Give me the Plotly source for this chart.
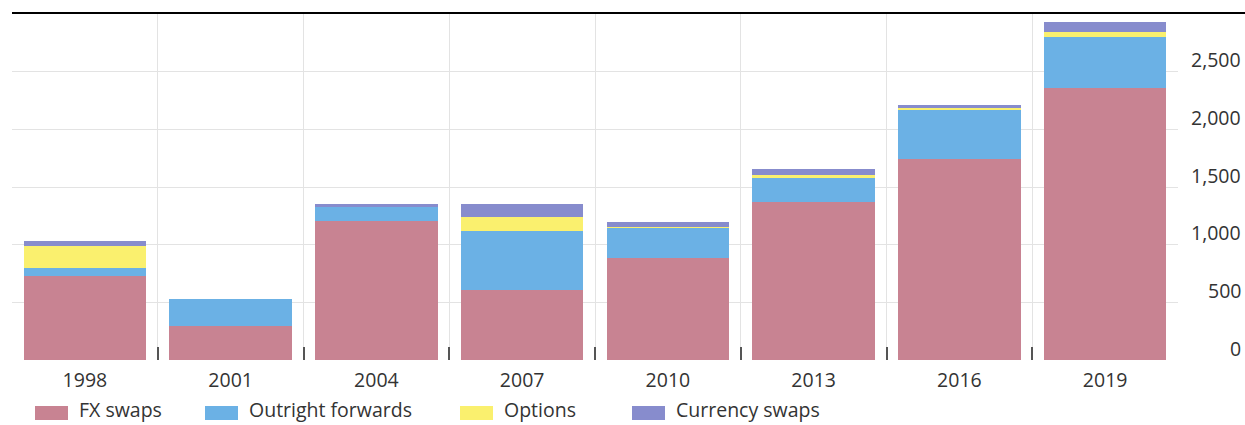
import plotly.graph_objects as go

years = ["1998", "2001", "2004", "2007", "2010", "2013", "2016", "2019"]
fx_swaps = [725, 297, 1205, 603, 884, 1370, 1747, 2355]
outright_forwards = [76, 231, 122, 515, 264, 212, 425, 443]
options = [187, 0, 8, 122, 3, 20, 18, 48]
currency_swaps = [41, 0, 15, 110, 46, 52, 17, 87]

series_names = ["FX swaps", "Outright forwards", "Options", "Currency swaps"]
series_values = [fx_swaps, outright_forwards, options, currency_swaps]
colors = ["#C88392", "#6BB1E5", "#FAF06E", "#878CCD"]

y_ticks = [0, 500, 1000, 1500, 2000, 2500]
y_tick_labels = ["0", "500", "1,000", "1,500", "2,000", "2,500"]

W, H = 1245, 425
L, R, T, B = 12, 67, 14, 65
pw = W - L - R
ph = H - T - B


def px_x(p):
    return (p - L) / pw


def px_y(p):
    return (H - B - p) / ph


FONT = "Open Sans, Noto Sans, DejaVu Sans, sans-serif"
FS = 19.5

fig = go.Figure()
for name, vals, col in zip(series_names, series_values, colors):
    fig.add_trace(go.Bar(x=years, y=vals, name=name, marker=dict(color=col, line=dict(width=0)),
                         showlegend=False))

fig.update_layout(
    barmode="stack",
    bargap=0.158,
    width=W, height=H,
    margin=dict(l=L, r=R, t=T, b=B, pad=0),
    paper_bgcolor="white",
    plot_bgcolor="white",
    font=dict(family=FONT, size=FS, color="#333333"),
    xaxis=dict(
        type="category",
        tickson="boundaries",
        ticks="inside",
        ticklen=13,
        tickwidth=1.5,
        tickcolor="#555555",
        showgrid=True,
        gridcolor="#E3E3E3",
        gridwidth=1,
        showline=False,
        zeroline=False,
        ticklabelstandoff=6,
        tickfont=dict(family=FONT, size=FS, color="#333333"),
        range=[-0.5, 7.5],
    ),
    yaxis=dict(
        range=[0, 3000],
        tickvals=y_ticks + [3000],
        showticklabels=False,
        showgrid=True,
        gridcolor="#E3E3E3",
        gridwidth=1,
        zeroline=False,
        showline=False,
        side="right",
    ),
)

# right-aligned y tick labels, sitting just above their gridlines
for v, t in zip(y_ticks, y_tick_labels):
    fig.add_annotation(x=px_x(1243), xref="paper", y=v, yref="y", text=t, showarrow=False,
                       xanchor="right", yanchor="middle", yshift=12,
                       font=dict(family=FONT, size=FS, color="#333333"))

# top rule
fig.add_shape(type="line", xref="paper", yref="paper", x0=0, x1=px_x(W), y0=px_y(13), y1=px_y(13),
              line=dict(color="black", width=2))

# legend (manual, wide swatches)
legend_swatch_x = [35, 205, 460, 632]
for name, col, sx in zip(series_names, colors, legend_swatch_x):
    fig.add_shape(type="rect", xref="paper", yref="paper",
                  x0=px_x(sx), x1=px_x(sx + 33), y0=px_y(420), y1=px_y(406),
                  fillcolor=col, line=dict(width=0))
    fig.add_annotation(x=px_x(sx + 43), xref="paper", y=px_y(424), yref="paper", text=name,
                       showarrow=False, xanchor="left", yanchor="bottom", borderpad=0,
                       font=dict(family=FONT, size=FS, color="#333333"))

fig.write_html("out.html")
